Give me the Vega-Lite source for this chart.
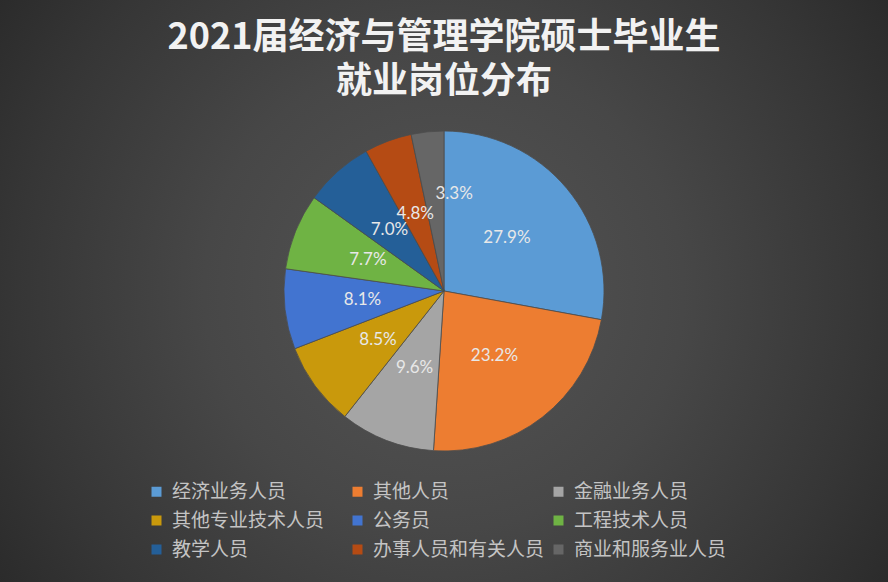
{
  "$schema": "https://vega.github.io/schema/vega-lite/v6.json",
  "width": 888,
  "height": 582,
  "autosize": {"type": "fit", "contains": "padding"},
  "padding": 0,
  "background": "#2c2c2c",
  "title": {
    "text": ["2021届经济与管理学院硕士毕业生", "就业岗位分布"],
    "font": "Noto Sans CJK SC",
    "fontSize": 36,
    "fontWeight": "bold",
    "color": "#f2f2f2",
    "lineHeight": 44,
    "anchor": "middle",
    "orient": "top",
    "offset": -101
  },
  "data": {
    "values": [
      {"idx": 1, "category": "经济业务人员", "share": 0.279},
      {"idx": 2, "category": "其他人员", "share": 0.232},
      {"idx": 3, "category": "金融业务人员", "share": 0.096},
      {"idx": 4, "category": "其他专业技术人员", "share": 0.085},
      {"idx": 5, "category": "公务员", "share": 0.081},
      {"idx": 6, "category": "工程技术人员", "share": 0.077},
      {"idx": 7, "category": "教学人员", "share": 0.070},
      {"idx": 8, "category": "办事人员和有关人员", "share": 0.048},
      {"idx": 9, "category": "商业和服务业人员", "share": 0.033}
    ]
  },
  "layer": [
    {
      "data": {"values": [{"bg": 1}]},
      "mark": {
        "type": "rect",
        "color": {
          "gradient": "radial",
          "x1": 0.5, "y1": 0.5, "r1": 0,
          "x2": 0.5, "y2": 0.5, "r2": 0.6,
          "stops": [
            {"offset": 0, "color": "#555555"},
            {"offset": 0.45, "color": "#474747"},
            {"offset": 0.8, "color": "#363636"},
            {"offset": 1, "color": "#2b2b2b"}
          ]
        }
      }
    },
    {
      "mark": {"type": "arc", "outerRadius": 160, "stroke": "#4d4d4d", "strokeWidth": 0.8},
      "encoding": {
        "theta": {"field": "share", "type": "quantitative", "stack": true},
        "order": {"field": "idx", "type": "quantitative"},
        "color": {
          "field": "category",
          "type": "nominal",
          "scale": {
            "domain": ["经济业务人员", "其他人员", "金融业务人员", "其他专业技术人员", "公务员", "工程技术人员", "教学人员", "办事人员和有关人员", "商业和服务业人员"],
            "range": ["#5b9bd5", "#ed7d31", "#a5a5a5", "#c9990c", "#4274d0", "#6fb344", "#245f98", "#b54b14", "#666666"]
          },
          "legend": {
            "title": null,
            "orient": "none",
            "legendX": 147,
            "legendY": 482,
            "padding": 0,
            "direction": "horizontal",
            "columns": 3,
            "gridAlign": "all",
            "columnPadding": 4,
            "rowPadding": 9,
            "symbolType": "square",
            "symbolSize": 100,
            "symbolStrokeWidth": 0,
            "labelFont": "Noto Sans CJK SC",
            "labelFontSize": 19,
            "labelColor": "#c4c4c4",
            "labelLimit": 300,
            "labelOffset": 6
          }
        }
      }
    },
    {
      "transform": [{"filter": "datum.share >= 0.04"}],
      "mark": {"type": "text", "radius": 82, "font": "Lato", "fontSize": 17, "align": "center", "baseline": "middle", "color": "#e8e8e8"},
      "encoding": {
        "theta": {"field": "share", "type": "quantitative", "stack": true},
        "order": {"field": "idx", "type": "quantitative"},
        "text": {"field": "share", "type": "quantitative", "format": ".1%"}
      }
    },
    {
      "transform": [{"filter": "datum.share < 0.04"}],
      "mark": {"type": "text", "radius": 98, "font": "Lato", "fontSize": 17, "align": "center", "baseline": "middle", "color": "#e8e8e8"},
      "encoding": {
        "theta": {"field": "share", "type": "quantitative", "stack": true},
        "order": {"field": "idx", "type": "quantitative"},
        "text": {"field": "share", "type": "quantitative", "format": ".1%"}
      }
    }
  ],
  "resolve": {"scale": {"theta": "shared"}},
  "config": {
    "view": {"stroke": null}
  }
}
